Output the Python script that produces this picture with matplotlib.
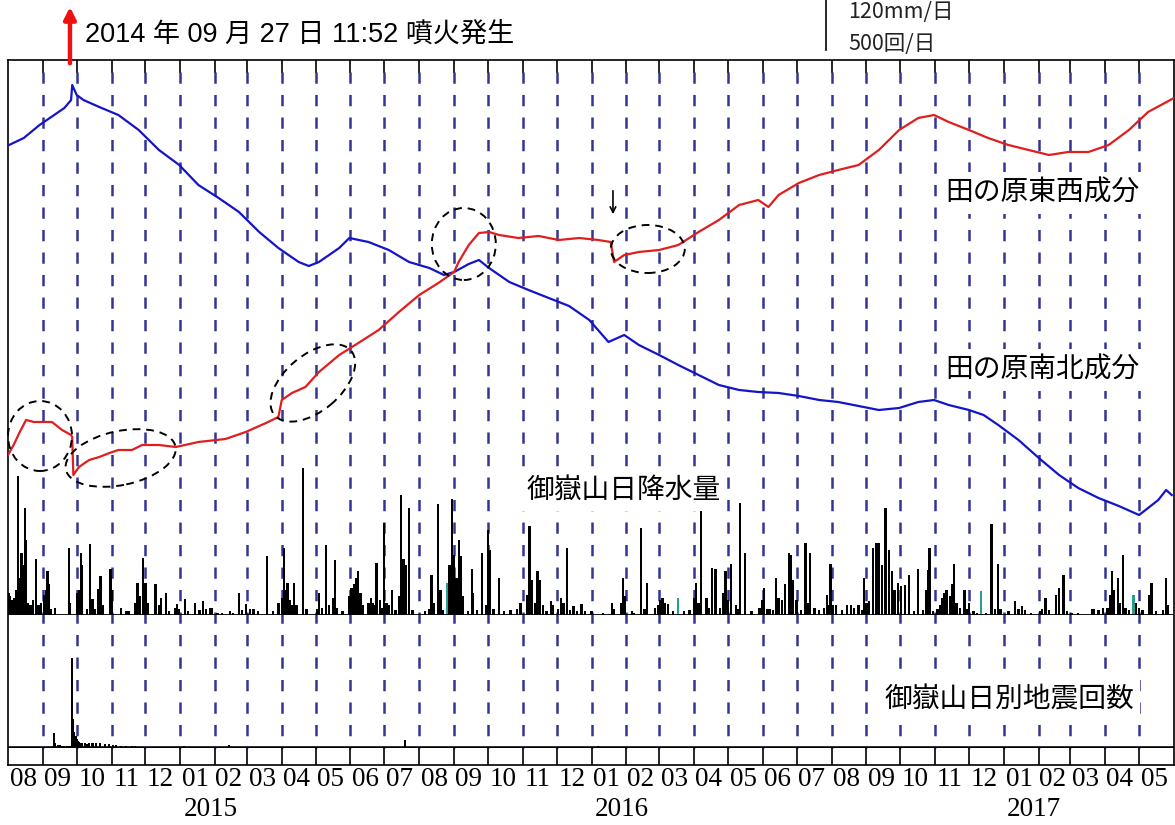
import numpy as np
import matplotlib
matplotlib.use('Agg')
import matplotlib.pyplot as plt
from matplotlib.patches import Ellipse
from matplotlib.transforms import ScaledTranslation

# 日数は 2014-08-01 からの経過日
START = np.datetime64('2014-08-01')
END_DAY = 1035  # 2017-06-01

# 田の原 南北成分 (mm, 相対値)
ns_day = [1, 14, 28, 41, 50, 56, 57, 61, 67, 81, 98, 116, 134, 152, 169, 187, 205, 223, 240, 258,
          267, 276, 294, 303, 320, 338, 356, 374, 387, 396, 409, 418, 427, 445, 462, 480, 498, 516,
          533, 547, 560, 578, 595, 613, 631, 649, 666, 684, 702, 720, 737, 755, 773, 791, 808, 822,
          835, 853, 866, 879, 897, 915, 933, 950, 968, 986, 1004, 1012, 1021, 1028, 1033]
ns_mm = [37.5, 38.2, 39.5, 40.5, 41.2, 42.0, 43.5, 42.5, 42.0, 41.3, 40.5, 39.0, 37.0, 35.5, 33.5,
         32.2, 30.8, 28.8, 27.2, 25.8, 25.4, 25.8, 27.2, 28.2, 27.8, 27.0, 25.8, 25.2, 24.5, 24.8,
         25.6, 26.0, 25.2, 23.8, 23.0, 22.2, 21.4, 20.0, 17.8, 18.5, 17.5, 16.5, 15.5, 14.5, 13.5,
         13.0, 12.8, 12.7, 12.4, 12.0, 11.8, 11.4, 11.0, 11.2, 11.8, 12.0, 11.5, 11.0, 10.5, 9.5,
         8.0, 6.2, 4.5, 3.2, 2.2, 1.4, 0.5, 1.2, 2.0, 3.0, 2.5]

# 田の原 東西成分 (mm, 相対値)
ew_day = [0, 5, 10, 16, 23, 30, 39, 48, 56, 57, 58, 63, 72, 81, 90, 98, 110, 119, 134, 149, 169,
          193, 211, 229, 240, 243, 252, 264, 276, 294, 311, 329, 347, 365, 382, 396, 400, 409, 418,
          427, 436, 453, 471, 489, 507, 524, 535, 538, 547, 560, 578, 595, 613, 631, 649, 666, 675,
          684, 702, 720, 737, 755, 773, 791, 808, 822, 835, 853, 870, 888, 906, 924, 941, 959, 977,
          995, 1012, 1035]
ew_mm = [6.5, 7.5, 8.7, 10.0, 9.8, 9.8, 9.8, 9.0, 8.5, 8.3, 4.5, 5.3, 6.0, 6.3, 6.7, 7.0, 7.0, 7.5,
         7.5, 7.3, 7.8, 8.1, 8.8, 9.7, 10.3, 12.0, 12.7, 13.3, 14.8, 16.5, 17.7, 19.0, 20.8, 22.5,
         23.7, 24.8, 25.8, 27.5, 28.7, 28.8, 28.5, 28.2, 28.4, 28.0, 28.2, 28.0, 27.8, 25.8, 26.5,
         26.8, 27.0, 27.5, 28.8, 30.0, 31.5, 32.0, 31.3, 32.5, 33.7, 34.5, 35.0, 35.5, 37.0, 39.0,
         40.2, 40.5, 39.8, 39.0, 38.2, 37.5, 37.0, 36.5, 36.8, 36.8, 37.5, 39.0, 40.8, 42.2]

# 御嶽山 日降水量 (mm/日)
rain_day = [1, 2, 3, 5, 7, 9, 10, 12, 13, 15, 16, 18, 20, 22, 25, 27, 29, 32, 34, 35, 36, 38, 42,
            54, 55, 61, 63, 65, 66, 70, 73, 75, 77, 80, 82, 84, 91, 92, 100, 105, 107, 113, 115,
            117, 120, 122, 124, 131, 134, 136, 140, 143, 148, 150, 152, 157, 160, 166, 170, 173,
            176, 179, 181, 186, 190, 197, 200, 205, 208, 211, 215, 218, 222, 230, 235, 240, 243,
            245, 247, 248, 250, 252, 254, 256, 262, 265, 274, 276, 279, 282, 285, 289, 290, 292,
            297, 303, 305, 307, 309, 311, 313, 315, 320, 322, 324, 326, 327, 330, 332, 334, 336,
            338, 341, 344, 347, 349, 351, 353, 356, 359, 370, 374, 376, 378, 382, 384, 386, 390,
            392, 394, 396, 398, 400, 402, 404, 408, 412, 413, 416, 421, 424, 426, 428, 431, 436,
            440, 446, 452, 455, 461, 463, 465, 468, 470, 472, 475, 478, 482, 484, 488, 491, 493,
            496, 499, 502, 505, 509, 512, 518, 528, 536, 538, 544, 546, 548, 554, 556, 562, 565,
            567, 574, 577, 579, 581, 583, 586, 590, 595, 600, 605, 609, 611, 613, 615, 620, 622,
            625, 628, 632, 635, 637, 639, 642, 646, 648, 650, 654, 660, 667, 669, 671, 674, 676,
            679, 682, 684, 687, 690, 693, 695, 697, 700, 704, 708, 710, 712, 716, 720, 724, 727,
            729, 730, 732, 735, 740, 745, 748, 751, 755, 758, 760, 762, 764, 768, 771, 773, 776,
            779, 782, 785, 787, 790, 793, 796, 800, 804, 808, 812, 815, 817, 818, 821, 825, 827,
            829, 831, 833, 836, 838, 840, 842, 845, 849, 851, 853, 857, 860, 864, 868, 873, 876,
            879, 881, 888, 894, 897, 900, 903, 908, 916, 918, 921, 924, 930, 933, 937, 940, 944,
            950, 962, 964, 968, 972, 976, 978, 980, 982, 985, 987, 990, 992, 995, 999, 1001, 1004,
            1007, 1013, 1015, 1019, 1025, 1028, 1030]
rain_mm = [18, 15, 12, 14, 20, 111, 30, 50, 40, 86, 60, 10, 8, 12, 45, 8, 10, 16, 20, 35, 25, 5, 6,
           54, 10, 18, 20, 50, 40, 5, 57, 13, 5, 21, 31, 8, 37, 20, 6, 3, 3, 10, 26,
           15, 46, 26, 10, 25, 8, 14, 18, 3, 6, 9, 5, 13, 3, 10, 4, 11,
           5, 6, 6, 2, 2, 3, 2, 18, 4, 9, 5, 5, 3, 47, 3, 10, 14,
           54, 20, 26, 12, 8, 26, 8, 118, 5, 5, 18, 6, 56, 8, 14, 44, 6,
           3, 15, 22, 25, 30, 35, 18, 8, 10, 14, 10, 8, 42, 12, 6, 74, 10,
           8, 20, 4, 15, 96, 45, 40, 86, 4, 3, 5, 32, 10, 89, 20, 4, 26,
           40, 93, 48, 30, 60, 47, 15, 3, 37, 18, 4, 50, 8, 68, 52, 5, 30,
           3, 4, 5, 10, 16, 71, 28, 10, 35, 28, 8, 3, 11, 8, 5, 14, 10,
           54, 4, 7, 3, 9, 3, 3, 2, 10, 5, 10, 30, 15, 3, 2, 70, 5,
           26, 6, 8, 12, 14, 10, 9, 3, 14, 3, 4, 14, 26, 10, 85, 14, 6,
           38, 37, 6, 18, 35, 12, 41, 8, 5, 90, 50, 3, 6, 12, 22, 5, 5,
           4, 30, 14, 12, 25, 50, 48, 28, 12, 4, 58, 10, 50, 6, 4, 6, 16,
           8, 41, 8, 8, 4, 8, 8, 6, 8, 4, 30, 10, 11, 54, 58, 58, 40,
           86, 52, 35, 20, 26, 23, 24, 32, 3, 37, 4, 20, 36, 54, 3, 5, 8,
           14, 18, 20, 15, 25, 41, 10, 6, 20, 5, 10, 3, 2, 19, 2, 73, 5,
           41, 5, 3, 11, 5, 7, 4, 2, 3, 5, 14, 4, 16, 22, 32, 3, 2,
           2, 5, 5, 4, 6, 6, 16, 35, 20, 30, 10, 48, 6, 4, 16, 10, 6,
           4, 16, 26, 3, 4, 30, 8]
rain_teal_day = [390, 595, 864, 999]  # 欠測を含む日

# 御嶽山 日別地震回数 (回/日)
eq_day = [35, 40, 41, 42, 44, 46, 48, 50, 52, 54, 56, 57, 58, 59, 60, 61, 62, 63, 64, 66, 68, 70,
          72, 75, 78, 82, 86, 90, 93, 96, 100, 105, 110, 113, 120, 130, 140, 156, 175, 196, 230,
          352, 410, 524, 560, 700, 1000]
eq_cnt = [5, 8, 56, 20, 12, 10, 8, 8, 7, 7, 8, 340, 110, 60, 45, 32, 26, 22, 20, 18, 18, 16,
          18, 18, 17, 18, 16, 15, 12, 10, 8, 8, 6, 8, 5, 4, 4, 6, 3, 10, 3, 30, 3, 8, 4, 3, 3]

ERUPTION_DAY = 57  # 2014-09-27

W, H = 1175, 825
fig = plt.figure(figsize=(W / 100, H / 100), dpi=100, facecolor='white')
JP = ['Noto Sans CJK JP', 'DejaVu Sans']
SANS = ['Liberation Sans', 'Noto Sans CJK JP']


def box(x0, y0, x1, y1):
    # pixel box -> figure fraction rect
    return [x0 / W, 1 - y1 / H, (x1 - x0) / W, (y1 - y0) / H]


FR_T, FR_B = 60, 765
ax = fig.add_axes(box(8, FR_T, 1174, FR_B))
ax_r = fig.add_axes(box(8, 465, 1174, 615), sharex=ax)
ax_e = fig.add_axes(box(8, 615, 1174, 748), sharex=ax)
ax_g = fig.add_axes(box(8, 60, 1174, 520), sharex=ax)
for a, z in ((ax, 0), (ax_r, 1), (ax_e, 1), (ax_g, 2)):
    a.set_zorder(z)
    a.set_xlim(0, END_DAY)
    a.set_xticks([])
    a.set_yticks([])
    if a is not ax:
        a.patch.set_visible(False)
        for s in a.spines.values():
            s.set_visible(False)
for s in ax.spines.values():
    s.set_linewidth(1.2)

months = np.arange('2014-08', '2017-07', dtype='datetime64[M]')
mstart = (months.astype('datetime64[D]') - START).astype(int)
bounds = mstart[1:-1]

fh = FR_B - FR_T
def fy(ypx):
    return (FR_B - ypx) / fh

for d in bounds:
    ax.axvline(d, ymin=fy(72), ymax=fy(748), color='#343494', lw=1.8,
               dashes=(4.5, 4.5), zorder=1)
    ax.axvline(d, ymin=fy(60), ymax=fy(72), color='black', lw=1.2, zorder=1)
    ax.axvline(d, ymin=fy(765), ymax=fy(748), color='black', lw=1.2, zorder=1)

# 降水量
ax_r.set_ylim(0, 120)
rain_c = ['#2a9d8f' if d in rain_teal_day else 'black' for d in rain_day]
ax_r.bar(rain_day, rain_mm, width=2.0, color=rain_c, align='center', linewidth=0)
ax_r.axhline(0, color='black', lw=1.3)

# 地震回数
ax_e.set_ylim(0, 500)
ax_e.bar(eq_day, eq_cnt, width=1.8, color='black', linewidth=0)
ax_e.axhline(0, color='black', lw=2.6)

# GNSS
ax_g.set_ylim(0, 46)
ax_g.plot(ns_day, ns_mm, color='#1414c8', lw=1.6)
ax_g.plot(ew_day, ew_mm, color='#e01e1e', lw=1.6)

# 破線の楕円 (中心: データ座標, 大きさ: inch)
ell_day = [28.4, 100, 270.6, 404.6, 567.9]
ell_mm = [8.4, 6.2, 13.7, 27.6, 27.1]
ell_w = [0.64, 1.12, 1.00, 0.64, 0.74]
ell_h = [0.70, 0.54, 0.56, 0.72, 0.48]
ell_ang = [0, 12, 40, 0, 0]
for cx, cy, w, h, ang in zip(ell_day, ell_mm, ell_w, ell_h, ell_ang):
    tr = fig.dpi_scale_trans + ScaledTranslation(cx, cy, ax_g.transData)
    ax_g.add_patch(Ellipse((0, 0), w, h, angle=ang, transform=tr, fill=False,
                           edgecolor='black', lw=1.4, linestyle=(0, (4, 3)),
                           clip_on=False, zorder=4))

# 東西成分の段差を示す矢印
ax_g.annotate('', xy=(537, 30.3), xytext=(537, 33.2),
              arrowprops=dict(arrowstyle='->', color='black', lw=1.2))

# 噴火の矢印
ax.annotate('', xy=(ERUPTION_DAY - 2, 0.995), xytext=(ERUPTION_DAY - 2, 0.92),
            xycoords=('data', 'figure fraction'), textcoords=('data', 'figure fraction'),
            arrowprops=dict(arrowstyle='-|>,head_width=0.35,head_length=0.7',
                            color='#ee1111', lw=3.2), annotation_clip=False)
fig.text(85 / W, 1 - 35 / H, '2014 年 09 月 27 日 11:52 噴火発生', family=SANS,
         fontsize=19.5, va='center', ha='left')

# 右上のスケール
fig.add_artist(plt.Line2D([826 / W, 826 / W], [1 - 50 / H, 1.0], color='black', lw=1.2))
fig.text(848 / W, 1 - 1 / H, '120mm/日', family=JP, fontsize=15.5, va='top',
         ha='left', color='#222222')
fig.text(848 / W, 1 - 44 / H, '500回/日', family=JP, fontsize=15.5, va='center',
         ha='left', color='#222222')

# 系列名
lab = dict(family=JP, fontsize=20, va='center', ha='left', zorder=6,
           bbox=dict(boxstyle='square,pad=0.2', fc='white', ec='none'))
fig.text(945 / W, 1 - 193 / H, '田の原東西成分', **lab)
fig.text(945 / W, 1 - 370 / H, '田の原南北成分', **lab)
fig.text(527 / W, 1 - 490 / H, '御嶽山日降水量', **lab)
fig.text(885 / W, 1 - 700 / H, '御嶽山日別地震回数', **lab)

# 月・年ラベル
xt = ax.get_xaxis_transform()
for i, m in enumerate(months[:-1]):
    mid = (mstart[i] + mstart[i + 1]) / 2
    ax.text(mid - 2, fy(779), '%02d' % (m.astype(int) % 12 + 1), transform=xt, ha='center',
            va='center', family='Liberation Serif', fontsize=19.5, clip_on=False)
for y in (2015, 2016, 2017):
    d = (np.datetime64('%d-01-01' % y) - START).astype(int) + 27
    ax.text(d, fy(809), str(y), transform=xt, ha='center', va='center',
            family='Liberation Serif', fontsize=19.5, clip_on=False)

fig.savefig('out.png', dpi=100)
